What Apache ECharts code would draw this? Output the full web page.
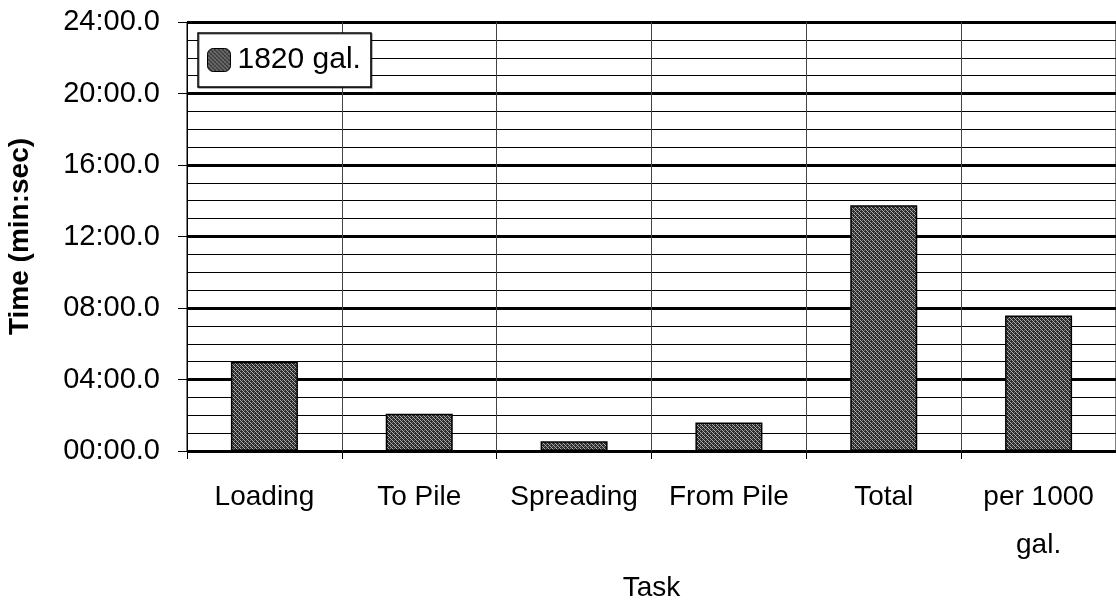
<!DOCTYPE html>
<html><head><meta charset="utf-8">
<script src="https://cdn.jsdelivr.net/npm/echarts@6/dist/echarts.min.js"></script>
<style>html,body{margin:0;padding:0;background:#fff}#c{width:1116px;height:600px}</style>
</head><body><div id="c"></div>
<script>
const categories = ['Loading', 'To Pile', 'Spreading', 'From Pile', 'Total', 'per 1000\ngal.'];
// minutes (decimal)
const values1820 = [5.0, 2.08, 0.55, 1.6, 13.75, 7.58];
const seriesName = '1820 gal.';
const yTicks = { min: 0, max: 24, interval: 4 };

function fmt(v) {
  const m = Math.floor(v + 1e-9);
  const s = Math.round((v - m) * 60);
  return String(m).padStart(2, '0') + ':' + String(s).padStart(2, '0') + '.0';
}

function makePattern() {
  const c = document.createElement('canvas');
  c.width = 4; c.height = 4;
  const g = c.getContext('2d');
  g.fillStyle = '#2a2a2a'; g.fillRect(0, 0, 4, 4);
  g.fillStyle = '#b0b0b0';
  g.fillRect(0, 0, 1, 1); g.fillRect(2, 2, 1, 1);
  g.fillRect(1, 1, 1, 1); g.fillRect(3, 3, 1, 1);
  g.fillStyle = '#777';
  g.fillRect(2, 0, 1, 1); g.fillRect(0, 2, 1, 1);
  return c;
}
const pat = makePattern();
const FONT = 'Liberation Sans, Arial, sans-serif';

const chart = echarts.init(document.getElementById('c'), null, { renderer: 'canvas' });
chart.setOption({
  animation: false,
  backgroundColor: '#fff',
  textStyle: { fontFamily: FONT },
  grid: { left: 187, right: 0, top: 22, bottom: 149, containLabel: false, outerBoundsMode: 'none',
          show: true, borderColor: '#000', borderWidth: 1 },
  legend: {
    show: true, left: 198, top: 33, orient: 'vertical',
    padding: [12, 10, 12, 9],
    borderColor: '#000', borderWidth: 1.5, backgroundColor: '#fff',
    shadowColor: 'rgba(0,0,0,0.4)', shadowOffsetX: 1, shadowOffsetY: 1, shadowBlur: 0,
    itemWidth: 23, itemHeight: 23, itemGap: 4,
    textStyle: { fontSize: 30, color: '#000', fontFamily: FONT, padding: [0, 0, 0, 2] },
    data: [{ name: seriesName, itemStyle: { color: { image: pat, repeat: 'repeat' }, borderColor: '#000', borderWidth: 1 } }]
  },
  xAxis: {
    type: 'category', data: categories, boundaryGap: true,
    name: 'Task', nameLocation: 'middle', nameGap: 111,
    nameTextStyle: { fontSize: 28, color: '#000', fontFamily: FONT },
    axisLine: { show: true, lineStyle: { color: '#000', width: 1 } },
    axisTick: { show: true, length: 8, lineStyle: { color: '#000' } },
    axisLabel: { fontSize: 28, color: '#000', margin: 22, lineHeight: 48, interval: 0, fontFamily: FONT },
    splitLine: { show: true, lineStyle: { color: '#444', width: 1 } }
  },
  yAxis: {
    type: 'value', min: yTicks.min, max: yTicks.max, interval: yTicks.interval,
    name: 'Time (min:sec)', nameLocation: 'middle', nameGap: 153, nameRotate: 90,
    nameTextStyle: { fontSize: 28, fontWeight: 'bold', color: '#000', fontFamily: FONT },
    axisLine: { show: true, lineStyle: { color: '#000', width: 1 } },
    axisTick: { show: true, length: 9, lineStyle: { color: '#000' } },
    axisLabel: { fontSize: 29, color: '#000', margin: 27, formatter: fmt, fontFamily: FONT },
    splitLine: { show: true, lineStyle: { color: '#000', width: 3 } },
    minorTick: { show: false, splitNumber: 4 },
    minorSplitLine: { show: true, lineStyle: { color: '#000', width: 1 } }
  },
  series: [{
    name: seriesName, type: 'bar', data: values1820, barWidth: 67,
    itemStyle: { color: { image: pat, repeat: 'repeat' }, borderColor: '#000', borderWidth: 1.5 }
  }]
});
</script></body></html>
